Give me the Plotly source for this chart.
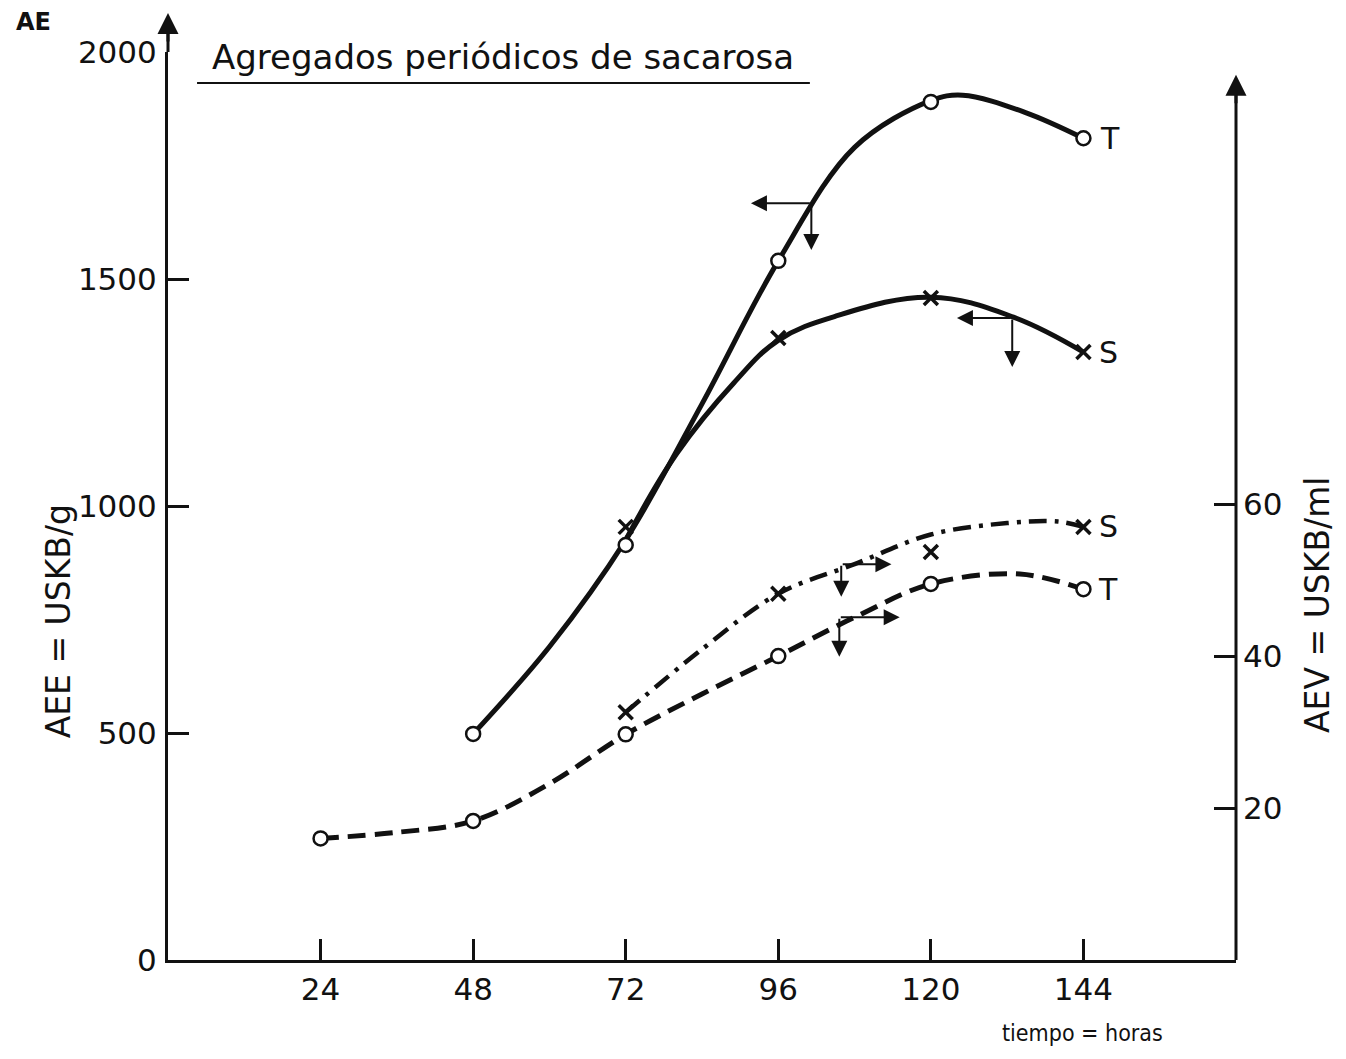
import plotly.graph_objects as go

# ---------------- data ----------------
x_ticks = [24, 48, 72, 96, 120, 144]
left_ticks = [0, 500, 1000, 1500, 2000]
right_ticks = [20, 40, 60]

# AEE (left axis, USKB/g) measured points
aee_T_x = [48, 72, 96, 120, 144]
aee_T_y = [498, 914, 1540, 1890, 1810]
aee_S_x = [72, 96, 120, 144]
aee_S_y = [954, 1370, 1458, 1339]

# AEV (right axis, USKB/ml) measured points
aev_T_x = [24, 48, 72, 96, 120, 144]
aev_T_y = [16.0, 18.3, 29.7, 40.0, 49.5, 48.8]
aev_S_x = [72, 96, 120, 144]
aev_S_y = [32.6, 48.2, 53.7, 57.0]

# hand-drawn smooth curves (control points)
aee_T_curve_x = [48, 60, 72, 84, 96, 108, 120, 125, 135, 144]
aee_T_curve_y = [498, 690, 925, 1225, 1540, 1790, 1893, 1905, 1866, 1810]
aee_S_curve_x = [72, 80, 89, 96, 105, 120, 133, 144]
aee_S_curve_y = [925, 1115, 1271, 1365, 1418, 1460, 1416, 1339]
aev_T_curve_x = [24, 36, 48, 60, 72, 84, 96, 108, 120, 134, 144]
aev_T_curve_y = [16.0, 16.8, 18.3, 23.2, 29.7, 35.0, 40.0, 45.1, 49.5, 50.8, 48.8]
aev_S_curve_x = [72, 84, 96, 108, 120, 132, 140, 144]
aev_S_curve_y = [32.6, 40.9, 48.2, 52.1, 56.0, 57.5, 57.7, 57.0]

FONT = "DejaVu Sans"
NARROW = "DejaVu Sans Condensed, DejaVu Sans"
INK = "#111111"

fig = go.Figure()

# curves
fig.add_trace(go.Scatter(x=aee_T_curve_x, y=aee_T_curve_y, mode="lines",
                         line=dict(color=INK, width=5, shape="spline", smoothing=1.0), yaxis="y"))
fig.add_trace(go.Scatter(x=aee_S_curve_x, y=aee_S_curve_y, mode="lines",
                         line=dict(color=INK, width=5, shape="spline", smoothing=1.1), yaxis="y"))
fig.add_trace(go.Scatter(x=aev_T_curve_x, y=aev_T_curve_y, mode="lines",
                         line=dict(color=INK, width=5, shape="spline", dash="18px,9px"),
                         yaxis="y2"))
fig.add_trace(go.Scatter(x=aev_S_curve_x, y=aev_S_curve_y, mode="lines",
                         line=dict(color=INK, width=4.5, shape="spline",
                                   dash="18px,8px,4px,8px"),
                         yaxis="y2"))

# markers
circ = dict(symbol="circle", size=14, color="white", line=dict(width=2.5, color=INK))
cross = dict(symbol="x-thin-open", size=14, color=INK, line=dict(width=3.5, color=INK))
fig.add_trace(go.Scatter(x=aee_T_x, y=aee_T_y, mode="markers", marker=circ, yaxis="y"))
fig.add_trace(go.Scatter(x=aee_S_x, y=aee_S_y, mode="markers", marker=cross, yaxis="y"))
fig.add_trace(go.Scatter(x=aev_T_x, y=aev_T_y, mode="markers", marker=circ, yaxis="y2"))
fig.add_trace(go.Scatter(x=aev_S_x, y=aev_S_y, mode="markers", marker=cross, yaxis="y2"))

tickfont = dict(family=FONT, size=31, color=INK)

fig.update_layout(
    width=1346, height=1059,
    margin=dict(l=168, r=110, t=52, b=99, autoexpand=False),
    paper_bgcolor="white", plot_bgcolor="white",
    showlegend=False,
    xaxis=dict(range=[0, 168], tickvals=x_ticks, ticktext=[str(v) for v in x_ticks],
               ticks="inside", ticklen=21, tickwidth=2.5, tickcolor=INK,
               showline=True, linewidth=3, linecolor=INK, showgrid=False, zeroline=False,
               tickfont=tickfont, ticklabelstandoff=0, automargin=False),
    yaxis=dict(range=[0, 2000], tickvals=left_ticks, ticktext=[str(v) for v in left_ticks],
               ticks="inside", ticklen=21, tickwidth=2.5, tickcolor=INK,
               showline=True, linewidth=3, linecolor=INK, showgrid=False, zeroline=False,
               tickfont=tickfont, ticklabelstandoff=2, automargin=False),
    yaxis2=dict(range=[0, 119.5], overlaying="y", side="right",
                tickvals=right_ticks, ticktext=[str(v) for v in right_ticks],
                ticks="inside", ticklen=22, tickwidth=2.5, tickcolor=INK,
                showline=False, showgrid=False, zeroline=False,
                tickfont=tickfont, ticklabelstandoff=6, automargin=False),
)

# right axis line and axis arrows
fig.add_shape(type="line", xref="paper", yref="paper", x0=1, x1=1, y0=0, y1=0.96,
              line=dict(color=INK, width=3))
fig.add_shape(type="line", xref="paper", yref="paper", x0=0, x1=0, y0=1, y1=1.03,
              line=dict(color=INK, width=3))
for xp, yp in [(0, 1.043), (1, 0.975)]:
    fig.add_annotation(xref="paper", yref="paper", x=xp, y=yp, ax=0, ay=30,
                       showarrow=True, arrowhead=2, arrowsize=1.4, arrowwidth=3,
                       arrowcolor=INK, text="")

def ptext(xp, yp, text, size, angle=0, family=FONT):
    fig.add_annotation(xref="paper", yref="paper", x=xp, y=yp, text=text,
                       xanchor="center", yanchor="middle", textangle=angle,
                       showarrow=False, font=dict(family=family, size=size, color=INK))

# title and underline
ptext(0.3137, 0.9945, "Agregados periódicos de sacarosa", 34)
fig.add_shape(type="line", xref="paper", yref="paper", x0=0.0272, x1=0.601, y0=0.9659, y1=0.9659,
              line=dict(color=INK, width=2))

ptext(-0.126, 1.033, "<b>AE</b>", 24)
ptext(0.8565, -0.0804, "tiempo = horas", 23, family=NARROW)
ptext(-0.103, 0.373, "AEE = USKB/g", 33, -90)
ptext(1.0768, 0.391, "AEV = USKB/ml", 33, -90)

# curve labels
lab_font = dict(family=FONT, size=30, color=INK)
fig.add_annotation(x=aee_T_x[-1], y=aee_T_y[-1], yref="y", text="T", xshift=27, showarrow=False, font=lab_font)
fig.add_annotation(x=aee_S_x[-1], y=aee_S_y[-1], yref="y", text="S", xshift=25, showarrow=False, font=lab_font)
fig.add_annotation(x=aev_S_x[-1], y=aev_S_y[-1], yref="y2", text="S", xshift=25, showarrow=False, font=lab_font)
fig.add_annotation(x=aev_T_x[-1], y=aev_T_y[-1], yref="y2", text="T", xshift=25, showarrow=False, font=lab_font)

# axis-indicator arrows (which scale each curve belongs to)
arrow_style = dict(showarrow=True, arrowhead=2, arrowsize=1.6, arrowwidth=2, arrowcolor=INK, text="")
# left-axis curves: arrow pointing left + arrow pointing down
for (ox, oy, hx, vy) in [(101.2, 1667, 91.7, 1564), (132.8, 1414, 124.1, 1306)]:
    fig.add_annotation(x=hx, y=oy, ax=ox, ay=oy, xref="x", yref="y", axref="x", ayref="y", **arrow_style)
    fig.add_annotation(x=ox, y=vy, ax=ox, ay=oy, xref="x", yref="y", axref="x", ayref="y", **arrow_style)
# right-axis curves: arrow pointing right + arrow pointing down
for (ox, oy, hx, vy) in [(105.9, 52.1, 113.8, 47.8), (105.6, 45.1, 115.1, 39.9)]:
    fig.add_annotation(x=hx, y=oy, ax=ox, ay=oy, xref="x", yref="y2", axref="x", ayref="y2", **arrow_style)
    fig.add_annotation(x=ox, y=vy, ax=ox, ay=oy, xref="x", yref="y2", axref="x", ayref="y2", **arrow_style)

fig.write_html("out.html", config={"displayModeBar": False},
               post_script="document.body.style.margin='0px';")
